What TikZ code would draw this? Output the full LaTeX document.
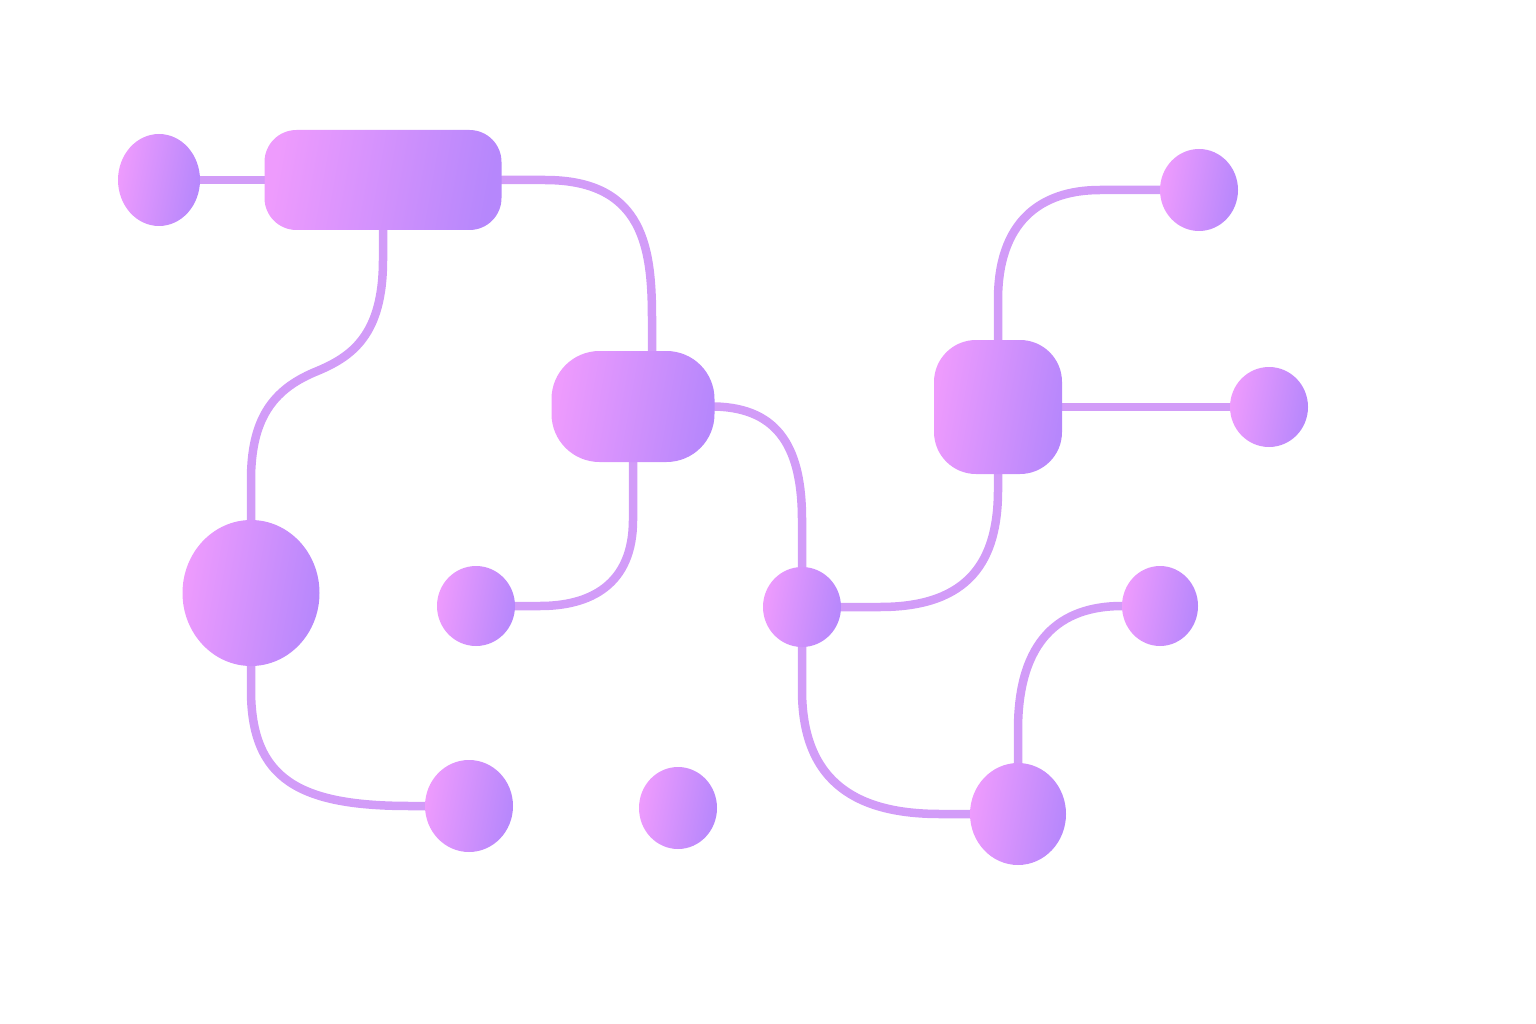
\documentclass[tikz,border=0pt]{standalone}
\usetikzlibrary{shapes.geometric,backgrounds}
\definecolor{pinkc}{HTML}{EE9BFD}
\definecolor{purpc}{HTML}{B687FC}
\definecolor{linec}{HTML}{D29CF8}
\begin{document}
\begin{tikzpicture}[x=1pt,y=-1pt,
  blob/.style={ellipse,inner sep=0pt,draw=none,left color=pinkc,right color=purpc,shading angle=80},
  box/.style={rectangle,inner sep=0pt,draw=none,left color=pinkc,right color=purpc,shading angle=80},
  wire/.style={draw=linec,line width=8.5pt,line cap=round}]
\useasboundingbox (0,0) rectangle (1536,1024);
% nodes
\node[blob,minimum width=82pt,minimum height=92pt] (A) at (159,180) {};
\node[box,rounded corners=32pt,minimum width=237pt,minimum height=100pt] (B) at (383,180) {};
\node[box,rounded corners=48pt,minimum width=163pt,minimum height=111pt] (C) at (633,406.5) {};
\node[blob,minimum width=137pt,minimum height=146pt] (D) at (251,593) {};
\node[blob,minimum width=88pt,minimum height=92pt] (E) at (469,806) {};
\node[blob,minimum width=78pt,minimum height=80pt] (F) at (476,606) {};
\node[blob,minimum width=78pt,minimum height=80pt] (G) at (802,607) {};
\node[box,rounded corners=42pt,minimum width=128pt,minimum height=134pt] (H) at (998,407) {};
\node[blob,minimum width=96pt,minimum height=102pt] (I) at (1018,814) {};
\node[blob,minimum width=76pt,minimum height=80pt] (J) at (1160,606) {};
\node[blob,minimum width=78pt,minimum height=82pt] (K) at (1199,190) {};
\node[blob,minimum width=78pt,minimum height=80pt] (L) at (1269,407) {};
\node[blob,minimum width=78pt,minimum height=82pt] (M) at (678,808) {};
% connectors
\begin{scope}[on background layer]
\path[wire] (A.east) -- (B.west);
\path[wire] (B.east) -- (545,180) .. controls (645,180) and (652,250) .. (652,320) -- (652,380);
\path[wire] (B.south) -- (383,260) .. controls (383,335) and (352,357) .. (315,372) .. controls (272,390) and (251,420) .. (251,480) -- (D.north);
\path[wire] (D.south) -- (251,690) .. controls (251,780) and (300,806) .. (410,806) -- (E.west);
\path[wire] (C.south) -- (633,520) .. controls (633,585) and (590,606) .. (540,606) -- (F.east);
\path[wire] (C.east) .. controls (780,408) and (802,450) .. (802,520) -- (G.north);
\path[wire] (G.east) -- (880,607) .. controls (970,607) and (998,560) .. (998,490) -- (H.south);
\path[wire] (G.south) -- (802,690) .. controls (802,785) and (860,814) .. (940,814) -- (I.west);
\path[wire] (I.north) -- (1018,730) .. controls (1018,640) and (1060,606) .. (1122,606) -- (J.west);
\path[wire] (H.north) -- (998,300) .. controls (998,222) and (1040,190) .. (1100,190) -- (K.west);
\path[wire] (H.east) -- (L.west);
\end{scope}
\end{tikzpicture}
\end{document}
